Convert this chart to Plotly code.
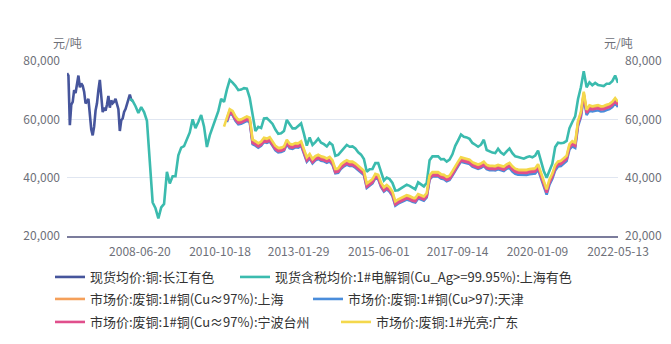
import pandas as pd
import plotly.graph_objects as go

# Sampling grids (monthly and half-monthly) over the full period, 元/吨
start, end = "2006-05-08", "2022-05-13"
months = pd.date_range(start, end, periods=194)
half_months = pd.date_range(start, end, periods=387)

# 现货均价:铜:长江有色 (half-month grid, from the first date)
changjiang = [
    75800, 75000, 58000, 65000, 66000, 70000, 69000, 72000, 75000, 71000,
    72300, 71500, 69500, 65500, 66000, 67000, 60000, 56500, 54500, 57500,
    63000, 65500, 70000, 73500, 68000, 62500, 64000, 63000, 65000, 68000,
    64000, 66500, 65500, 66000, 67000, 65000, 63500, 56000, 59700, 60300,
    62500, 63500, 65500, 67000, 68500, 66800, 66300,
]

# 现货含税均价:1#电解铜 上海有色 (monthly grid, from months[22])
smm_cathode = [
    67000, 66300, 64500, 62200, 64200, 62500, 59500, 46000,
    31500, 29500, 26000, 29800, 31000, 42000, 38000, 40500, 40500, 47700,
    50300, 50800, 53000, 55500, 60000, 57000, 59100, 61500, 57500, 50500,
    54500, 57400, 59700, 62800, 67000, 66000, 70200, 73500, 72600, 71500,
    70000, 70200, 70700, 70500, 67400, 62000, 56000, 57400, 57000, 60300,
    60400, 59500, 58400, 56500, 55000, 55200, 56000, 59800, 58500, 56900,
    56900, 57700, 58600, 55000, 51000, 53800, 51200, 52200, 53400, 52000,
    51500, 50700, 52000, 51200, 47500, 47800, 49000, 50000, 51200, 50600,
    50700, 50000, 48700, 47900, 46400, 42000, 42900, 43000, 45000, 45000,
    41800, 39000, 40000, 39500, 38200, 35600, 35700, 36400, 37000, 37600,
    37200, 36600, 36000, 38400, 37700, 37000, 38200, 46000, 47300, 47300,
    47300, 46300, 46400, 45500, 46200, 48000, 50900, 52800, 54800, 54000,
    53800, 53300, 51900, 51300, 50600, 51300, 53000, 49500, 49000, 48600,
    48400, 49900, 48600, 47900, 49000, 50000, 48400, 47300, 47100, 46900,
    46500, 47000, 47300, 47000, 47600, 49300, 45500, 42300, 40000, 42400,
    44800, 50500, 52000, 51800, 52000, 52600, 57000, 59100, 61000, 67000,
    71000, 76500, 71000, 72700, 71700, 72500, 71800, 71600, 71400, 72200,
    72200, 73100, 75000, 72500,
]

# 市场价:废铜:1#铜(Cu≈97%):上海 (monthly grid, from months[56])
scrap_shanghai = [
    60100, 63000, 62400, 60500, 59300, 59500, 60000, 60500, 60100,
    52500, 52000, 51300, 51900, 53200, 52900, 53400, 51900, 50400, 49700,
    49800, 50200, 52500, 51100, 50900, 51400, 51300, 52000, 49400, 46500,
    47600, 45900, 46900, 47400, 46800, 46600, 46100, 46600, 45400, 42500,
    42700, 44100, 44900, 45500, 45000, 45000, 44400, 43600, 42800, 41900,
    37500, 38200, 39000, 40800, 40500, 37800, 36200, 37000, 36200, 34700,
    31400, 32100, 32500, 33100, 33500, 33200, 32700, 32500, 33900, 33500,
    33100, 34200, 40300, 41400, 41300, 41400, 40700, 40500, 39800, 40200,
    41700, 43600, 45000, 46500, 46200, 46000, 45700, 44800, 44500, 44000,
    44400, 45000, 43900, 43600, 43600, 43500, 43900, 43500, 43300, 44100,
    44600, 43400, 42600, 42300, 42200, 42100, 42200, 42500, 42500, 42700,
    44100, 41300, 38000, 35500, 38900, 40900, 43800, 45100, 45300, 46000,
    47000, 51000, 52000, 51500, 59000, 62000, 69000, 62800, 64300, 64000,
    64100, 64400, 64000, 64100, 64500, 64800, 65500, 66800, 65500,
]

# 市场价:废铜:1#铜(Cu>97):天津 (monthly grid, from months[56])
scrap_tianjin = [
    59100, 62000, 61400, 59500, 58300, 58500, 59000, 59500, 59100,
    51500, 51000, 50300, 50900, 52200, 51900, 52400, 50900, 49400, 48700,
    48800, 49200, 51500, 50100, 49900, 50400, 50300, 51000, 48400, 45500,
    46600, 44900, 45900, 46400, 45800, 45600, 45100, 45600, 44400, 41500,
    41700, 43100, 43900, 44500, 44000, 44000, 43400, 42600, 41800, 40900,
    36500, 37200, 38000, 39800, 39500, 36800, 35200, 36000, 35200, 33700,
    30400, 31100, 31500, 32100, 32500, 32200, 31700, 31500, 32900, 32500,
    32100, 33200, 39300, 40400, 40300, 40400, 39700, 39500, 38800, 39200,
    40700, 42600, 44000, 45500, 45200, 45000, 44700, 43800, 43500, 43000,
    43400, 44000, 42900, 42600, 42600, 42500, 42900, 42500, 42300, 43100,
    43300, 42100, 41300, 41000, 40900, 40800, 40900, 41200, 41200, 41400,
    42800, 40000, 36700, 34200, 37600, 39600, 42500, 43800, 44000, 44700,
    45700, 49700, 50700, 50200, 57700, 60700, 67700, 61500, 63000, 62700,
    62800, 63100, 62700, 62800, 63200, 63500, 64200, 65500, 64200,
]

# 市场价:废铜:1#铜(Cu≈97%):宁波台州 (monthly grid, from months[56])
scrap_ningbo = [
    59500, 62400, 61800, 59900, 58700, 58900, 59400, 59900, 59500,
    51900, 51400, 50700, 51300, 52600, 52300, 52800, 51300, 49800, 49100,
    49200, 49600, 51900, 50500, 50300, 50800, 50700, 51400, 48800, 45900,
    47000, 45300, 46300, 46800, 46200, 46000, 45500, 46000, 44800, 41900,
    42100, 43500, 44300, 44900, 44400, 44400, 43800, 43000, 42200, 41300,
    36900, 37600, 38400, 40200, 39900, 37200, 35600, 36400, 35600, 34100,
    30800, 31500, 31900, 32500, 32900, 32600, 32100, 31900, 33300, 32900,
    32500, 33600, 39700, 40800, 40700, 40800, 40100, 39900, 39200, 39600,
    41100, 43000, 44400, 45900, 45600, 45400, 45100, 44200, 43900, 43400,
    43800, 44400, 43300, 43000, 43000, 42900, 43300, 42900, 42700, 43500,
    44000, 42800, 42000, 41700, 41600, 41500, 41600, 41900, 41900, 42100,
    43500, 40700, 37400, 34900, 38300, 40300, 43200, 44500, 44700, 45400,
    46400, 50400, 51400, 50900, 58400, 61400, 68400, 62200, 63700, 63400,
    63500, 63800, 63400, 63500, 63900, 64200, 64900, 66200, 64900,
]

# 市场价:废铜:1#光亮:广东 (monthly grid, from months[55])
scrap_guangdong = [
    57500, 60600, 63500, 62900, 61000, 59800, 60000, 60500, 61000, 60600,
    53000, 52500, 51800, 52400, 53700, 53400, 53900, 52400, 50900, 50200,
    50300, 50700, 53000, 51600, 51400, 51900, 51800, 52500, 49900, 47000,
    48100, 46400, 47400, 47900, 47300, 47100, 46600, 47100, 45900, 43000,
    43200, 44600, 45400, 46000, 45500, 45500, 44900, 44100, 43300, 42400,
    38000, 38700, 39500, 41300, 41000, 38300, 36700, 37500, 36700, 35200,
    31900, 32600, 33000, 33600, 34000, 33700, 33200, 33000, 34400, 34000,
    33600, 34700, 40800, 41900, 41800, 41900, 41200, 41000, 40300, 40700,
    42200, 44100, 45500, 47000, 46700, 46500, 46200, 45300, 45000, 44500,
    44900, 45500, 44400, 44100, 44100, 44000, 44400, 44000, 43800, 44600,
    45100, 43900, 43100, 42800, 42700, 42600, 42700, 43000, 43000, 43200,
    44600, 41800, 38500, 36000, 39400, 41400, 44300, 45600, 45800, 46500,
    47500, 51500, 52500, 52000, 59500, 62500, 69500, 63300, 64800, 64500,
    64600, 64900, 64500, 64600, 65000, 65300, 66000, 67300, 66000,
]

tick_dates = ["2008-06-20", "2010-10-18", "2013-01-29", "2015-06-01",
              "2017-09-14", "2020-01-09", "2022-05-13"]
y_ticks = [20000, 40000, 60000, 80000]

series = [
    ("现货均价:铜:长江有色", half_months[:len(changjiang)], changjiang, "#46559c", "legend"),
    ("现货含税均价:1#电解铜(Cu_Ag>=99.95%):上海有色",
     months[22:22 + len(smm_cathode)], smm_cathode, "#3bbbae", "legend2"),
    ("市场价:废铜:1#铜(Cu≈97%):上海", months[56:56 + len(scrap_shanghai)],
     scrap_shanghai, "#f5a05a", "legend3"),
    ("市场价:废铜:1#铜(Cu>97):天津", months[56:56 + len(scrap_tianjin)],
     scrap_tianjin, "#4a8ddb", "legend4"),
    ("市场价:废铜:1#铜(Cu≈97%):宁波台州", months[56:56 + len(scrap_ningbo)],
     scrap_ningbo, "#e04f8c", "legend5"),
    ("市场价:废铜:1#光亮:广东", months[55:55 + len(scrap_guangdong)],
     scrap_guangdong, "#f4d84c", "legend6"),
]

FONT = "Noto Sans CJK SC, sans-serif"
fig = go.Figure()
for name, x, y, color, lg in series:
    fig.add_trace(go.Scatter(
        x=x, y=y, name=name, mode="lines", legend=lg,
        line=dict(color=color, width=2.6),
    ))

# the right-hand value axis mirrors the left one
fig.add_trace(go.Scatter(
    x=[months[0]], y=[None], yaxis="y2", mode="lines",
    showlegend=False, hoverinfo="skip",
))

# one legend per entry so each row flows like the original layout
W, H = 671, 344
entries = {
    "legend": (50, 277), "legend2": (235, 277),
    "legend3": (50, 299), "legend4": (308, 299),
    "legend5": (50, 322), "legend6": (336, 322),
}
legend_layouts = {}
for key, (px, py) in entries.items():
    legend_layouts[key] = dict(
        orientation="h", xref="container", yref="container",
        x=px / W, y=1 - py / H, xanchor="left", yanchor="middle",
        font=dict(family=FONT, size=13, color="#333333"),
        bgcolor="rgba(0,0,0,0)", itemwidth=30,
    )

axis_font = dict(family=FONT, size=12, color="#6e7079")
fig.update_layout(
    width=W, height=H,
    margin=dict(l=67, r=53, t=61, b=108, autoexpand=False),
    plot_bgcolor="white", paper_bgcolor="white",
    showlegend=True,
    xaxis=dict(
        type="date", range=[months[0], months[-1]],
        tickvals=tick_dates, ticktext=tick_dates,
        showgrid=False, showline=True, linecolor="#7b7c9c", linewidth=2,
        ticks="", tickfont=axis_font, ticklabelstandoff=4, automargin=False,
    ),
    yaxis=dict(
        range=[20000, 80000], tickvals=y_ticks, tickformat=",d",
        showgrid=True, gridcolor="#e0e6f1", gridwidth=1, zeroline=False,
        tickfont=axis_font, ticklabelstandoff=6, automargin=False,
    ),
    yaxis2=dict(
        range=[20000, 80000], tickvals=y_ticks, tickformat=",d",
        overlaying="y", side="right", showgrid=False, zeroline=False,
        tickfont=axis_font, ticklabelstandoff=6, automargin=False,
    ),
    annotations=[
        dict(text="元/吨", xref="paper", yref="paper", x=0, y=1,
             xanchor="center", yanchor="bottom", yshift=8, showarrow=False,
             font=axis_font),
        dict(text="元/吨", xref="paper", yref="paper", x=1, y=1,
             xanchor="center", yanchor="bottom", yshift=8, showarrow=False,
             font=axis_font),
    ],
    **legend_layouts,
)

fig.write_html("out.html")
